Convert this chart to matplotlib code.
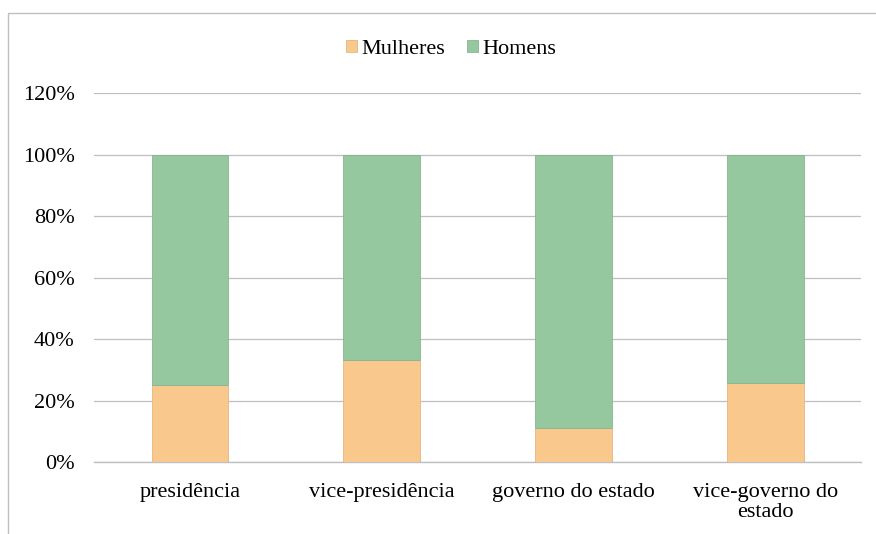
import matplotlib.pyplot as plt
import numpy as np
from matplotlib.patches import Rectangle

plt.rcParams['font.family'] = ['Liberation Serif', 'DejaVu Serif']

# data
categories = ['presidência', 'vice-presidência', 'governo do estado', 'vice-governo do\nestado']
mulheres = [25.0, 33.3, 11.1, 25.6]
homens = [100 - v for v in mulheres]

fig = plt.figure(figsize=(8.76, 5.34), dpi=100)
ax = fig.add_axes([0.1073, 0.1348, 0.8757, 0.691])

x = np.arange(len(categories))
ax.bar(x, mulheres, width=0.4, color='#F8C88C', edgecolor='#E6B680', linewidth=0.6, label='Mulheres', zorder=3)
ax.bar(x, homens, width=0.4, bottom=mulheres, color='#96C8A0', edgecolor='#86B490', linewidth=0.6, label='Homens', zorder=3)

ax.set_ylim(0, 120)
ax.set_xlim(-0.5, 3.5)
ax.set_yticks(range(0, 121, 20))
ax.set_yticklabels([f'{v}%' for v in range(0, 121, 20)], fontsize=16)
ax.set_xticks(x)
ax.set_xticklabels(categories, fontsize=16, linespacing=1.1)
ax.tick_params(length=0, pad=15)
ax.tick_params(axis='y', pad=14)
ax.grid(axis='y', color='#BFBFBF', linewidth=0.9, zorder=0)
for s in ['top', 'right', 'left']:
    ax.spines[s].set_visible(False)
ax.spines['bottom'].set_color('#BFBFBF')
ax.spines['bottom'].set_linewidth(1.0)

fig.legend(loc='center', bbox_to_anchor=(0.515, 0.908), ncol=2, frameon=False,
           fontsize=16, handlelength=0.5, handleheight=0.5, columnspacing=1.0, handletextpad=0.2)

# chart border (cut at right/bottom)
fig.patches.append(Rectangle((8 / 876, -0.05), 1.1, 1 - 13 / 534 + 0.05, transform=fig.transFigure,
                             fill=False, edgecolor='#BFBFBF', linewidth=1.0))

fig.savefig('out.png', dpi=100)
